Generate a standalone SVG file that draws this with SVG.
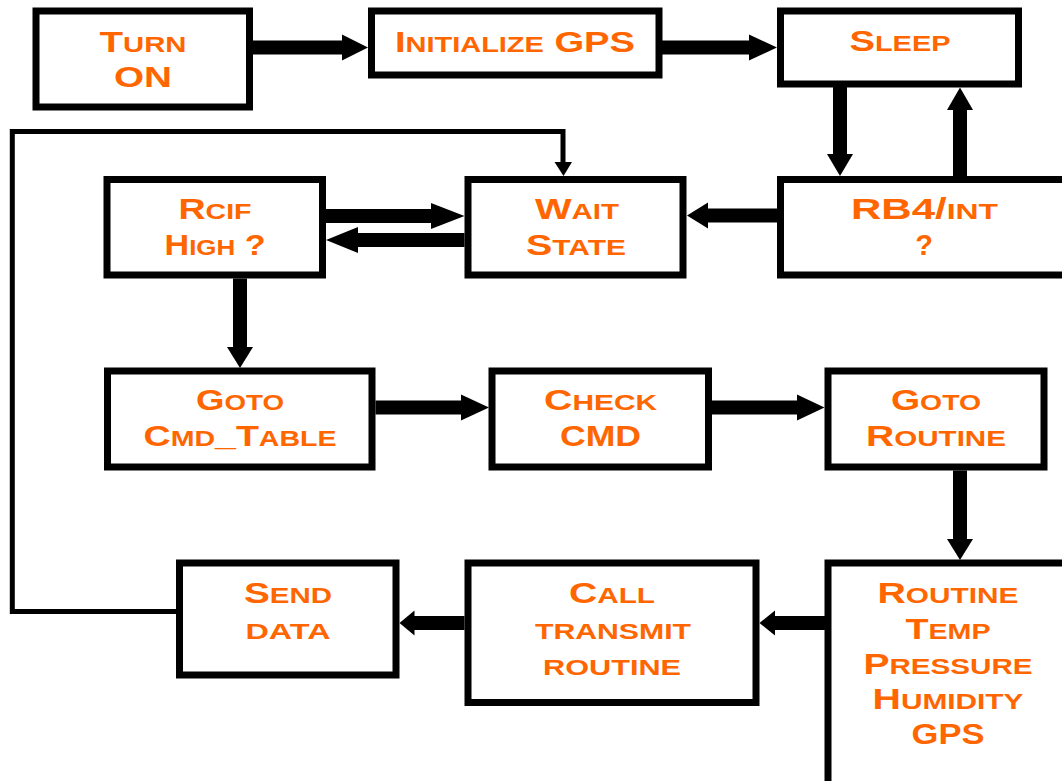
<svg xmlns="http://www.w3.org/2000/svg" width="1062" height="781" viewBox="0 0 1062 781">
<style>
.box{fill:#fff;stroke:#000;stroke-width:7}
.t{font-family:"Liberation Sans",Arial,sans-serif;font-weight:bold;font-size:29px;font-variant:small-caps;fill:#ff6600;text-anchor:middle}
.s{font-size:31.5px}
.shaft{stroke:#000;stroke-width:14;fill:none}
.thin{stroke:#000;stroke-width:5;fill:none;stroke-linejoin:miter}
.head{fill:#000}
</style>
<rect width="1062" height="781" fill="#fff"/>
<g id="turn-on"><rect class="box" x="36" y="11" width="213.5" height="96"/>
<text class="t" x="143" y="51.5" textLength="87" lengthAdjust="spacingAndGlyphs">T<tspan class="s">urn</tspan></text>
<text class="t" x="143" y="86.5" textLength="58" lengthAdjust="spacingAndGlyphs">ON</text></g>
<g id="init-gps"><rect class="box" x="371.5" y="11" width="287.5" height="64"/>
<text class="t" x="515" y="51.5" textLength="240" lengthAdjust="spacingAndGlyphs">I<tspan class="s">nitialize</tspan> GPS</text></g>
<g id="sleep"><rect class="box" x="780.5" y="11" width="238" height="73"/>
<text class="t" x="900" y="51" textLength="101" lengthAdjust="spacingAndGlyphs">S<tspan class="s">leep</tspan></text></g>
<g id="rcif"><rect class="box" x="107" y="179.5" width="215.5" height="95.5"/>
<text class="t" x="215" y="218.5" textLength="73" lengthAdjust="spacingAndGlyphs">R<tspan class="s">cif</tspan></text>
<text class="t" x="215" y="254.5" textLength="101" lengthAdjust="spacingAndGlyphs">H<tspan class="s">igh</tspan> ?</text></g>
<g id="wait"><rect class="box" x="468" y="179.5" width="215" height="95.5"/>
<text class="t" x="577" y="218.5" textLength="84" lengthAdjust="spacingAndGlyphs">W<tspan class="s">ait</tspan></text>
<text class="t" x="576" y="254.5" textLength="100" lengthAdjust="spacingAndGlyphs">S<tspan class="s">tate</tspan></text></g>
<g id="rb4"><rect class="box" x="780.5" y="179.5" width="290" height="95.5"/>
<text class="t" x="924.5" y="218.5" textLength="147" lengthAdjust="spacingAndGlyphs">RB4/<tspan class="s">int</tspan></text>
<text class="t" x="924" y="254.5">?</text></g>
<g id="goto-cmd"><rect class="box" x="107.5" y="371" width="264.5" height="96"/>
<text class="t" x="240" y="409.5" textLength="88" lengthAdjust="spacingAndGlyphs">G<tspan class="s">oto</tspan></text>
<text class="t" x="240" y="446" textLength="193" lengthAdjust="spacingAndGlyphs">C<tspan class="s">md</tspan>_T<tspan class="s">able</tspan></text></g>
<g id="check-cmd"><rect class="box" x="492" y="371" width="216.5" height="96"/>
<text class="t" x="600.5" y="409.5" textLength="113" lengthAdjust="spacingAndGlyphs">C<tspan class="s">heck</tspan></text>
<text class="t" x="600.5" y="446" textLength="81" lengthAdjust="spacingAndGlyphs">CMD</text></g>
<g id="goto-routine"><rect class="box" x="828" y="371" width="216" height="96"/>
<text class="t" x="936" y="409.5" textLength="90" lengthAdjust="spacingAndGlyphs">G<tspan class="s">oto</tspan></text>
<text class="t" x="936" y="446" textLength="140" lengthAdjust="spacingAndGlyphs">R<tspan class="s">outine</tspan></text></g>
<g id="send-data"><rect class="box" x="179.5" y="563" width="216.5" height="112"/>
<text class="t" x="288" y="602.5" textLength="88" lengthAdjust="spacingAndGlyphs">S<tspan class="s">end</tspan></text>
<text class="t" x="288" y="638.5" textLength="85" lengthAdjust="spacingAndGlyphs"><tspan class="s">data</tspan></text></g>
<g id="call-transmit"><rect class="box" x="468" y="563" width="288" height="139.5"/>
<text class="t" x="612" y="602.5" textLength="86" lengthAdjust="spacingAndGlyphs">C<tspan class="s">all</tspan></text>
<text class="t" x="613" y="638.5" textLength="156" lengthAdjust="spacingAndGlyphs"><tspan class="s">transmit</tspan></text>
<text class="t" x="612" y="674.5" textLength="138" lengthAdjust="spacingAndGlyphs"><tspan class="s">routine</tspan></text></g>
<g id="routine"><rect class="box" x="828" y="563" width="240" height="240"/>
<text class="t" x="948" y="602.5" textLength="141" lengthAdjust="spacingAndGlyphs">R<tspan class="s">outine</tspan></text>
<text class="t" x="948" y="638.5" textLength="85" lengthAdjust="spacingAndGlyphs">T<tspan class="s">emp</tspan></text>
<text class="t" x="948" y="673.5" textLength="169" lengthAdjust="spacingAndGlyphs">P<tspan class="s">ressure</tspan></text>
<text class="t" x="948" y="708.5" textLength="151" lengthAdjust="spacingAndGlyphs">H<tspan class="s">umidity</tspan></text>
<text class="t" x="948" y="744" textLength="73" lengthAdjust="spacingAndGlyphs">GPS</text></g>
<g id="connectors">
<path class="shaft" d="M253 47.5H343M662 47.5H750M840 87V155M960 176V109M326 216H432M464.5 240H357M777 215.5H707M240 278.5V348M375.5 407.5H462M711.5 407.5H798M960 470.5V540M825 623H774M464.5 623H413"/>
<polygon class="head" points="342,34.5 368,47.5 342,60.5"/>
<polygon class="head" points="749,34.5 777,47.5 749,60.5"/>
<polygon class="head" points="827,154 853,154 840,176"/>
<polygon class="head" points="947,110 973,110 960,87.5"/>
<polygon class="head" points="431,203 464.5,216 431,229"/>
<polygon class="head" points="358,227 326,240 358,253"/>
<polygon class="head" points="708,202.5 687,215.5 708,228.5"/>
<polygon class="head" points="227,347 253,347 240,368"/>
<polygon class="head" points="461,394.5 489,407.5 461,420.5"/>
<polygon class="head" points="797,394.5 824.5,407.5 797,420.5"/>
<polygon class="head" points="947,539 973,539 960,560"/>
<polygon class="head" points="775,610.5 759.5,623 775,635.5"/>
<polygon class="head" points="414.5,610.5 399.5,623 414.5,635.5"/>
<polyline class="thin" points="176,611.5 12.3,611.5 12.3,131.5 563,131.5 563,163"/>
<polygon class="head" points="554.5,162 572,162 563.5,176"/>
</g>
</svg>
